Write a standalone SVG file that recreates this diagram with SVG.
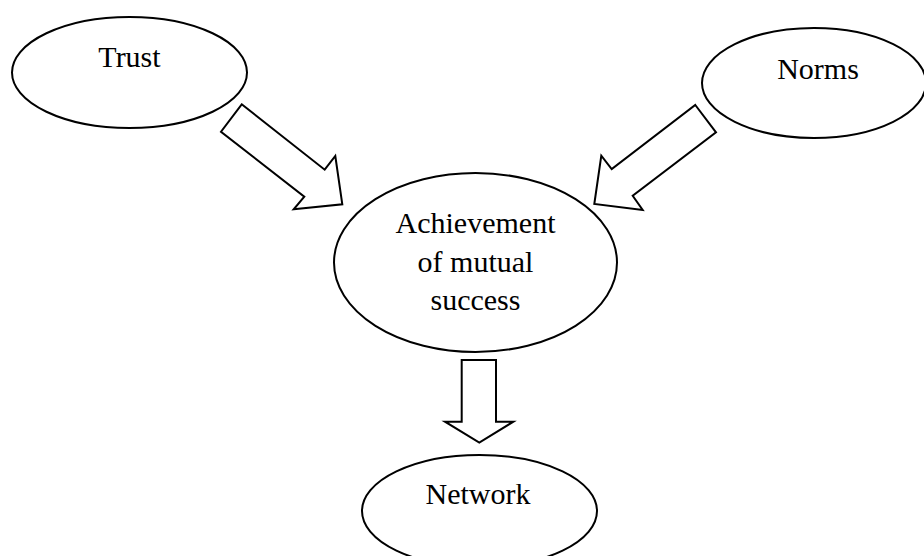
<svg xmlns="http://www.w3.org/2000/svg" width="924" height="556" viewBox="0 0 924 556">
<style>
.node ellipse{fill:#fff;stroke:#000;stroke-width:2}
.node text{font-family:"Liberation Serif","Times New Roman",serif;font-size:30px;fill:#000;text-anchor:middle}
.conn polygon{fill:#fff;stroke:#000;stroke-width:2;stroke-linejoin:miter}
</style>
<rect width="924" height="556" fill="#fff"/>
<g class="conn" id="connectors">
<polygon points="241.7,104.3 324.7,169.7 335.3,156 342.3,204.3 293.7,209.3 304.3,196.7 221,131.7"/>
<polygon points="695.3,105 716,132.3 632.7,195.7 642.7,210 594.3,204 601.3,155.7 611.7,169"/>
<polygon points="461.7,360 496,360 496,421.7 513.3,421.7 479.3,442.7 445,421.7 461.7,421.7"/>
</g>
<g class="node" id="trust">
<ellipse cx="129.5" cy="72.5" rx="117.5" ry="55.5"/>
<text x="129.5" y="67">Trust</text>
</g>
<g class="node" id="norms">
<ellipse cx="814" cy="83" rx="112" ry="55"/>
<text x="818" y="79">Norms</text>
</g>
<g class="node" id="achievement">
<ellipse cx="475.5" cy="262.5" rx="141.5" ry="89.5"/>
<text x="475.5" y="233.3">Achievement</text>
<text x="475.5" y="271.7">of mutual</text>
<text x="475.5" y="310">success</text>
</g>
<g class="node" id="network">
<ellipse cx="479.5" cy="511" rx="117.5" ry="56"/>
<text x="478" y="504">Network</text>
</g>
</svg>
